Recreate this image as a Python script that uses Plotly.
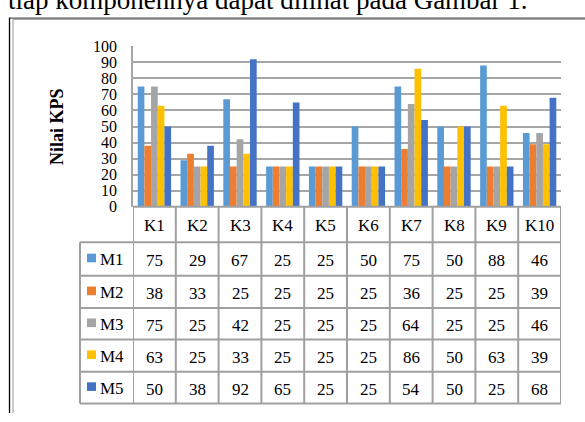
import plotly.graph_objects as go

categories = ["K1", "K2", "K3", "K4", "K5", "K6", "K7", "K8", "K9", "K10"]
series_names = ["M1", "M2", "M3", "M4", "M5"]
m1 = [75, 29, 67, 25, 25, 50, 75, 50, 88, 46]
m2 = [38, 33, 25, 25, 25, 25, 36, 25, 25, 39]
m3 = [75, 25, 42, 25, 25, 25, 64, 25, 25, 46]
m4 = [63, 25, 33, 25, 25, 25, 86, 50, 63, 39]
m5 = [50, 38, 92, 65, 25, 25, 54, 50, 25, 68]
series_values = [m1, m2, m3, m4, m5]
colors = ["#5B9BD5", "#ED7D31", "#A5A5A5", "#FFC000", "#4472C4"]
y_ticks = [0, 10, 20, 30, 40, 50, 60, 70, 80, 90, 100]
y_title = "Nilai KPS"
caption = "tiap komponennya dapat dilihat pada Gambar 1."

W, H = 585, 422
FONT = "Liberation Serif, Times New Roman, serif"
GRID = "#A6A6A6"
TLINE = "#A0A0A0"


def px(x):
    return x / W


def py(y):
    return 1 - y / H


PLOT_L, PLOT_R, PLOT_T, PLOT_B = 133, 561, 40, 207
ROW_LINES = [PLOT_B, 244, 279, 312.5, 345.5, 379, 412]
LEG_L = 80

xs = list(range(len(categories)))

fig = go.Figure()
for name, vals, col in zip(series_names, series_values, colors):
    fig.add_trace(go.Bar(x=xs, y=vals, name=name, marker=dict(color=col, line=dict(width=0))))

shapes = []
annotations = []

# outer document frame
shapes.append(dict(type="line", xref="paper", yref="paper", x0=px(9.5), x1=px(9.5), y0=py(10), y1=py(H),
                   line=dict(color="#000000", width=1.3)))
shapes.append(dict(type="line", xref="paper", yref="paper", x0=px(9.5), x1=1, y0=py(10.5), y1=py(10.5),
                   line=dict(color="#555555", width=1.3)))
shapes.append(dict(type="line", xref="paper", yref="paper", x0=px(13), x1=px(13), y0=py(12), y1=py(H),
                   line=dict(color="#A8A8A8", width=1.2)))
shapes.append(dict(type="line", xref="paper", yref="paper", x0=px(13), x1=1, y0=py(12), y1=py(12),
                   line=dict(color="#A8A8A8", width=1.2)))

# table horizontal lines
for i, yl in enumerate(ROW_LINES):
    x0 = PLOT_L if i == 0 else LEG_L
    shapes.append(dict(type="line", xref="paper", yref="paper", x0=px(x0), x1=px(PLOT_R),
                       y0=py(yl), y1=py(yl), line=dict(color=TLINE, width=2)))
# table vertical lines
shapes.append(dict(type="line", xref="paper", yref="paper", x0=px(LEG_L), x1=px(LEG_L),
                   y0=py(ROW_LINES[1]), y1=py(ROW_LINES[-1]), line=dict(color=TLINE, width=2)))
for i in range(len(categories) + 1):
    shapes.append(dict(type="line", xref="x", yref="paper", x0=i - 0.5, x1=i - 0.5,
                       y0=py(PLOT_B), y1=py(ROW_LINES[-1]), line=dict(color=TLINE, width=2)))

# header labels
hdr_c = (ROW_LINES[0] + ROW_LINES[1]) / 2
for i, c in enumerate(categories):
    annotations.append(dict(x=i, xref="x", y=py(hdr_c + 1), yref="paper", text=c, showarrow=False,
                            xanchor="center", yanchor="middle", font=dict(family=FONT, size=17, color="#000")))

# data rows
for r, (name, vals, col) in enumerate(zip(series_names, series_values, colors)):
    top, bot = ROW_LINES[r + 1], ROW_LINES[r + 2]
    cy = (top + bot) / 2
    for i, v in enumerate(vals):
        annotations.append(dict(x=i, xref="x", y=py(cy + 1.5), yref="paper", text=str(v), showarrow=False,
                                xanchor="center", yanchor="middle", font=dict(family=FONT, size=17, color="#000")))
    shapes.append(dict(type="rect", xref="paper", yref="paper", x0=px(87), x1=px(96),
                       y0=py(cy - 5.5), y1=py(cy + 3.5), fillcolor=col, line=dict(width=0)))
    annotations.append(dict(x=px(98), xref="paper", y=py(cy + 1), yref="paper", text=name, showarrow=False,
                            xanchor="left", yanchor="middle", font=dict(family=FONT, size=17, color="#000")))

# y axis title
annotations.append(dict(x=px(57), xref="paper", y=py(124), yref="paper", text="<b>" + y_title + "</b>",
                        textangle=-90, showarrow=False, xanchor="center", yanchor="middle",
                        font=dict(family=FONT, size=18, color="#000")))

# caption text above the chart (cropped at the top edge, as in the reference)
annotations.append(dict(x=px(6), xref="paper", y=py(9), yref="paper", text=caption, showarrow=False,
                        xanchor="left", yanchor="bottom", font=dict(family=FONT, size=27, color="#000")))

fig.update_layout(
    width=W, height=H, margin=dict(l=0, r=0, t=0, b=0),
    paper_bgcolor="white", plot_bgcolor="white",
    barmode="group", bargap=0.22, bargroupgap=0,
    showlegend=False,
    shapes=shapes, annotations=annotations,
    xaxis=dict(domain=[px(PLOT_L), px(PLOT_R)], range=[-0.5, len(categories) - 0.5],
               showticklabels=False, showgrid=False, zeroline=False, showline=False, fixedrange=True),
    yaxis=dict(domain=[py(PLOT_B), py(PLOT_T)], range=[0, 100], tickvals=y_ticks,
               showgrid=True, gridcolor=GRID, gridwidth=1.5, zeroline=False,
               showline=True, linecolor=GRID, linewidth=1.5, ticks="", ticklabelstandoff=11,
               tickfont=dict(family=FONT, size=16, color="#000")),
)

fig.write_html("out.html")
